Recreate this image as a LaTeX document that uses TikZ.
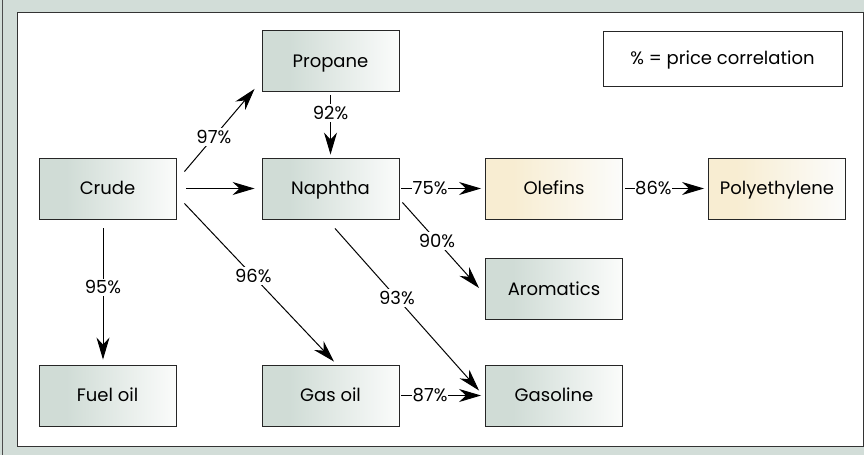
\documentclass[tikz,border=0pt]{standalone}
\usepackage{fontspec}
\setmainfont{Poppins}
\usetikzlibrary{arrows.meta}
\definecolor{bggray}{HTML}{D2DDD8}
\definecolor{boxgreen}{HTML}{D0DCD6}
\definecolor{boxcream}{HTML}{F8EDD2}
\definecolor{boxwhite}{HTML}{FBFCFB}
\pgfdeclarehorizontalshading{greenshade}{100bp}{color(0bp)=(boxgreen); color(25bp)=(boxgreen); color(35bp)=(boxgreen); color(75bp)=(boxwhite); color(100bp)=(boxwhite)}
\pgfdeclarehorizontalshading{creamshade}{100bp}{color(0bp)=(boxcream); color(25bp)=(boxcream); color(35bp)=(boxcream); color(75bp)=(boxwhite); color(100bp)=(boxwhite)}
\tikzset{
  box/.style={draw=black!85, line width=0.9pt, minimum width=137pt, minimum height=61pt, inner sep=0pt, text height=15pt, text depth=3pt, font=\fontsize{18}{21}\selectfont},
  gbox/.style={box, shading=greenshade},
  cbox/.style={box, shading=creamshade},
  conn/.style={line width=1pt, -{Stealth[length=22pt,width=13pt,inset=7pt]}},
  lbl/.style={fill=white, inner sep=2pt, font=\fontsize{18}{21}\selectfont},
}
\begin{document}
\begin{tikzpicture}[x=1pt,y=-1pt]
\useasboundingbox (0,0) rectangle (864,455);
\fill[bggray] (0,0) rectangle (864,455);
\draw[line width=0.8pt, black!70] (2,0) -- (2,455);
\fill[white] (17,12) rectangle (864,446);
\draw[line width=1pt, black!80] (864,12) -- (17,12) -- (17,446) -- (864,446);
\draw[line width=1pt, black!80] (863,12) -- (863,446);

\node[gbox] (crude) at (107.5,188.5) {Crude};
\node[gbox] (propane) at (330.5,61) {Propane};
\node[gbox] (naphtha) at (330.5,188.5) {Naphtha};
\node[cbox] (olefins) at (554,188.5) {Olefins};
\node[cbox] (poly) at (777,188.5) {Polyethylene};
\node[gbox] (arom) at (554,289) {Aromatics};
\node[gbox] (fuel) at (107.5,395.5) {Fuel oil};
\node[gbox] (gasoil) at (330.5,395.5) {Gas oil};
\node[gbox] (gasoline) at (554,395.5) {Gasoline};
\node[draw=black!85, line width=0.9pt, minimum width=239pt, minimum height=55pt, inner sep=0pt, text height=15pt, text depth=3pt, font=\fontsize{18}{21}\selectfont, fill=white] (legend) at (722.5,58.5) {\% = price correlation};

% connectors
\draw[conn] ([shift={(8,14)}]crude.north east) -- node[lbl, pos=0.42] {97\%} ([shift={(-7,-3)}]propane.south west);
\draw[conn] ([shift={(10,0)}]crude.east) -- ([shift={(-7,0)}]naphtha.west);
\draw[conn] ([shift={(0,3)}]propane.south) -- node[lbl, pos=0.3] {92\%} ([shift={(0,-3)}]naphtha.north);
\draw[conn] ([shift={(-4.5,9)}]crude.south) -- node[lbl, pos=0.45] {95\%} ([shift={(-4.5,-5)}]fuel.north);
\draw[conn] ([shift={(8,-16)}]crude.south east) -- node[lbl, pos=0.46] {96\%} ([shift={(3.5,-3)}]gasoil.north);
\draw[conn] ([shift={(2,0)}]naphtha.east) -- node[lbl, pos=0.36, inner sep=0.5pt] {75\%} ([shift={(-4,0)}]olefins.west);
\draw[conn] ([shift={(3,-17)}]naphtha.south east) -- node[lbl, pos=0.45] {90\%} ([shift={(-6,-1)}]arom.west);
\draw[conn] ([shift={(4.5,9)}]naphtha.south) -- node[lbl, pos=0.43] {93\%} ([shift={(-6,-5)}]gasoline.west);
\draw[conn] ([shift={(2,0)}]gasoil.east) -- node[lbl, pos=0.36, inner sep=0.5pt] {87\%} ([shift={(-4,0)}]gasoline.west);
\draw[conn] ([shift={(2,0)}]olefins.east) -- node[lbl, pos=0.36, inner sep=0.5pt] {86\%} ([shift={(-4,0)}]poly.west);
\end{tikzpicture}
\end{document}
